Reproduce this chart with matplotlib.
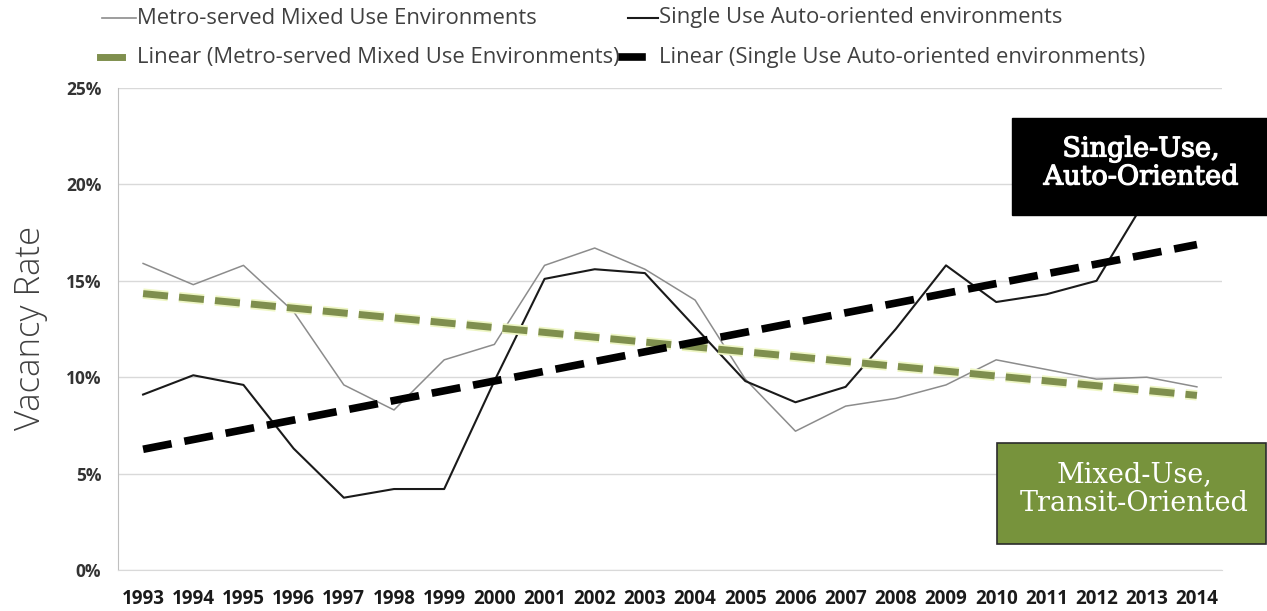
import numpy as np
import matplotlib
matplotlib.use("Agg")
import matplotlib.pyplot as plt
from matplotlib.lines import Line2D
from matplotlib.patches import Rectangle
import matplotlib.patheffects as pe

# ---- data ----
years = list(range(1993, 2015))
mixed_use = [15.9, 14.8, 15.8, 13.4, 9.6, 8.3, 10.9, 11.7, 15.8, 16.7, 15.6,
             14.0, 9.9, 7.2, 8.5, 8.9, 9.6, 10.9, 10.4, 9.9, 10.0, 9.5]
single_use = [9.1, 10.1, 9.6, 6.3, 3.75, 4.2, 4.2, 9.8, 15.1, 15.6, 15.4,
              12.6, 9.8, 8.7, 9.5, 12.5, 15.8, 13.9, 14.3, 15.0, 19.3, 20.0]
y_ticks = [0, 5, 10, 15, 20, 25]
y_tick_labels = ["0%", "5%", "10%", "15%", "20%", "25%"]
legend_labels = ["Metro-served Mixed Use Environments",
                 "Single Use Auto-oriented environments",
                 "Linear (Metro-served Mixed Use Environments)",
                 "Linear (Single Use Auto-oriented environments)"]

W, H = 1267, 611
fig = plt.figure(figsize=(W / 100, H / 100), dpi=100)
fig.patch.set_facecolor("white")

def fx(px):
    return px / W

def fy(py):
    return 1 - py / H

ax = fig.add_axes([fx(118), fy(570), fx(1222) - fx(118), fy(88) - fy(570)])
x = np.array(years, dtype=float)

# linear trends fitted to each series
mix_fit = np.polyval(np.polyfit(x, mixed_use, 1), x)
sgl_fit = np.polyval(np.polyfit(x, single_use, 1), x)

GRAY = "#8c8c8c"
OLIVE = "#7f8f4e"
ax.plot(x, mixed_use, color=GRAY, lw=1.1, zorder=3)
ax.plot(x, single_use, color="#1a1a1a", lw=1.5, zorder=3)
ax.plot(x, mix_fit, color=OLIVE, lw=5.0, linestyle=(0, (3.6, 1.6)), zorder=4,
        path_effects=[pe.Stroke(linewidth=7.5, foreground="#eef6c4"), pe.Normal()])
ax.plot(x, sgl_fit, color="black", lw=5.5, linestyle=(0, (3.8, 1.7)), zorder=5)

ax.set_xlim(1992.5, 2014.5)
ax.set_ylim(0, 25)
ax.set_yticks(y_ticks)
ax.set_yticklabels(y_tick_labels)
ax.set_xticks(years)
ax.set_xticklabels([str(y) for y in years])
ax.grid(axis="y", color="#d9d9d9", lw=1.0)
ax.set_axisbelow(True)
for s in ["top", "right"]:
    ax.spines[s].set_visible(False)
ax.spines["left"].set_color("#bfbfbf")
ax.spines["bottom"].set_color("#d9d9d9")
ax.tick_params(axis="y", length=0, pad=12)
ax.tick_params(axis="x", length=0, pad=14)
for lab in ax.get_xticklabels():
    lab.set_fontfamily(["Open Sans", "DejaVu Sans"])
    lab.set_fontweight("bold")
    lab.set_fontsize(13.5)
    lab.set_color("#1a1a1a")
for lab in ax.get_yticklabels():
    lab.set_fontfamily(["Open Sans", "DejaVu Sans"])
    lab.set_fontweight("bold")
    lab.set_fontsize(12.5)
    lab.set_color("#333333")

fig.text(fx(31), fy(328), "Vacancy Rate", rotation=90, ha="center", va="center",
         fontsize=25, color="#404040", family=["Open Sans", "DejaVu Sans"], fontweight="light")

# legend drawn by hand in two rows
leg_font = dict(fontsize=15.8, color="#404040", family=["Open Sans", "DejaVu Sans"], va="center")
fig.add_artist(Line2D([fx(102), fx(136)], [fy(18), fy(18)], color=GRAY, lw=1.2))
fig.text(fx(137), fy(18), legend_labels[0], **leg_font)
fig.add_artist(Line2D([fx(628), fx(658)], [fy(18), fy(18)], color="#1a1a1a", lw=1.5))
fig.text(fx(659), fy(18), legend_labels[1], **leg_font)
fig.add_artist(Line2D([fx(100), fx(122)], [fy(57), fy(57)], color=OLIVE, lw=5))
fig.text(fx(137), fy(57), legend_labels[2], **leg_font)
fig.add_artist(Line2D([fx(622), fx(642)], [fy(57), fy(57)], color="black", lw=5.5))
fig.text(fx(659), fy(57), legend_labels[3], **leg_font)

# annotation boxes
fig.add_artist(Rectangle((fx(1012), fy(215)), fx(1267) - fx(1012), fy(118) - fy(215),
                         transform=fig.transFigure, facecolor="black", edgecolor="black", zorder=10))
fig.text(fx(1141), fy(163), "Single-Use,\nAuto-Oriented", ha="center", va="center",
         color="white", fontsize=19.5, family=["DejaVu Serif"], linespacing=1.05, zorder=11,
         path_effects=[pe.withStroke(linewidth=0.9, foreground="white")])
fig.add_artist(Rectangle((fx(997), fy(544)), fx(1266) - fx(997), fy(443) - fy(544),
                         transform=fig.transFigure, facecolor="#77933c", edgecolor="#2b2b2b",
                         lw=1.2, zorder=10))
fig.text(fx(1134), fy(489), "Mixed-Use,\nTransit-Oriented", ha="center", va="center",
         color="white", fontsize=19.5, family=["DejaVu Serif"],
         linespacing=1.1, zorder=11)

fig.savefig("out.png", dpi=100, facecolor="white")
